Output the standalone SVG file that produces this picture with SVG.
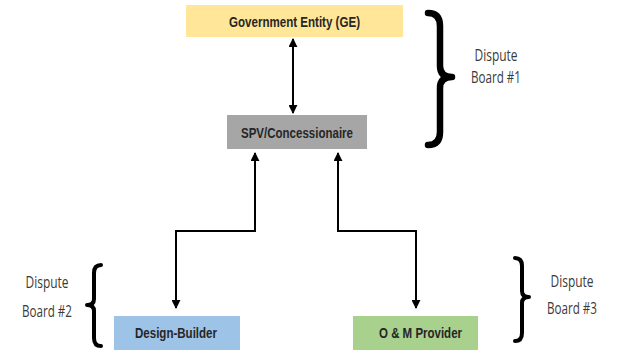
<svg xmlns="http://www.w3.org/2000/svg" width="618" height="350" viewBox="0 0 618 350">
<style>
.node text{font-family:"Liberation Sans",Arial,sans-serif;font-weight:bold;font-size:15.5px;fill:#262626;text-anchor:middle}
.lbl{font-family:"Open Sans","Liberation Sans",sans-serif;font-size:15.5px;fill:#3a3a3a;text-anchor:middle}
.conn{fill:none;stroke:#000;stroke-width:2}
.brace{fill:none;stroke:#000;stroke-linecap:round;stroke-linejoin:round}
</style>
<defs>
<marker id="ah" viewBox="0 0 10 10" refX="9" refY="5" markerWidth="4.5" markerHeight="4.5" orient="auto-start-reverse" markerUnits="strokeWidth">
<path d="M0,0 L10,5 L0,10 z" fill="#000"/>
</marker>
</defs>
<rect width="618" height="350" fill="#fff"/>
<g id="ge" class="node"><rect x="186" y="5" width="217" height="32" fill="#FFE699"/><text x="294.5" y="27" textLength="131" lengthAdjust="spacingAndGlyphs">Government Entity (GE)</text></g>
<g id="spv" class="node"><rect x="227" y="115" width="140" height="34" fill="#A6A6A6"/><text x="297" y="138" textLength="112" lengthAdjust="spacingAndGlyphs">SPV/Concessionaire</text></g>
<g id="db" class="node"><rect x="114" y="316" width="126" height="34" fill="#9DC3E6"/><text x="176" y="338" textLength="82" lengthAdjust="spacingAndGlyphs">Design-Builder</text></g>
<g id="om" class="node"><rect x="353" y="316" width="125" height="34" fill="#A9D18E"/><text x="420.5" y="338" textLength="83" lengthAdjust="spacingAndGlyphs">O &amp; M Provider</text></g>
<g id="connectors">
<path class="conn" d="M293,39 L293,113" marker-start="url(#ah)" marker-end="url(#ah)"/>
<path class="conn" d="M176,308 L176,231 L255,231 L255,153" marker-start="url(#ah)" marker-end="url(#ah)"/>
<path class="conn" d="M416,308 L416,231 L338,231 L338,153" marker-start="url(#ah)" marker-end="url(#ah)"/>
</g>
<g id="board1">
<path class="brace" stroke-width="6.5" d="M428,13 Q440,13 440,26 L440,66 Q440,77 452,77 Q440,77 440,88 L440,132 Q440,145 428,145"/>
<text class="lbl" x="496" y="61" textLength="43" lengthAdjust="spacingAndGlyphs">Dispute</text><text class="lbl" x="496" y="83" textLength="50" lengthAdjust="spacingAndGlyphs">Board #1</text>
</g>
<g id="board2">
<path class="brace" stroke-width="4" d="M101,265 Q94,265 94,273 L94,299 Q94,305 87,305 Q94,305 94,311 L94,338 Q94,346 101,346"/>
<text class="lbl" x="47" y="288" textLength="43" lengthAdjust="spacingAndGlyphs">Dispute</text><text class="lbl" x="47" y="317" textLength="50" lengthAdjust="spacingAndGlyphs">Board #2</text>
</g>
<g id="board3">
<path class="brace" stroke-width="4" d="M515,258 Q522,258 522,266 L522,291 Q522,297 529,297 Q522,297 522,303 L522,333 Q522,341 515,341"/>
<text class="lbl" x="572" y="287" textLength="43" lengthAdjust="spacingAndGlyphs">Dispute</text><text class="lbl" x="572" y="314" textLength="50" lengthAdjust="spacingAndGlyphs">Board #3</text>
</g>
</svg>
